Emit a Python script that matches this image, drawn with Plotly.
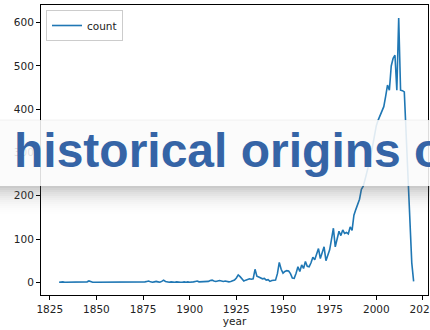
import plotly.graph_objects as go

# Yearly counts, 1830-2020
years = list(range(1830, 2021))
count = [
    # 1830s
    0, 1, 1, 0, 0, 0, 0, 0, 0, 0,
    # 1840s
    0, 0, 0, 0, 0, 1, 3, 1, 0, 0,
    # 1850s
    0, 0, 0, 1, 0, 0, 1, 0, 1, 0,
    # 1860s
    0, 1, 0, 1, 0, 1, 0, 1, 0, 0,
    # 1870s
    1, 0, 1, 0, 1, 0, 1, 2, 3, 1,
    # 1880s
    0, 1, 2, 1, 0, 2, 5, 2, 1, 0,
    # 1890s
    1, 0, 0, 1, 0, 0, 0, 1, 0, 1,
    # 1900s
    0, 0, 1, 2, 3, 1, 1, 2, 1, 2,
    # 1910s
    2, 4, 5, 3, 2, 3, 4, 3, 2, 3,
    # 1920s
    2, 1, 2, 3, 5, 10, 17, 13, 9, 3,
    # 1930s
    5, 7, 8, 7, 8, 30, 14, 12, 10, 8,
    # 1940s
    9, 5, 6, 2, 4, 4, 5, 20, 46, 30,
    # 1950s
    21, 25, 27, 26, 20, 10, 9, 21, 36, 25,
    # 1960s
    40, 32, 48, 37, 36, 45, 58, 52, 66, 78,
    # 1970s
    55, 70, 82, 50, 62, 75, 100, 125, 82, 100,
    # 1980s
    118, 108, 121, 113, 115, 112, 128, 120, 155, 168,
    # 1990s
    182, 192, 215, 222, 238, 255, 268, 290, 315, 338,
    # 2000s
    362, 375, 385, 392, 406, 430, 456, 444, 500, 518,
    # 2010-2020
    525, 444, 611, 444, 443, 440, 350, 255, 160, 45, 2,
]

x_ticks = [1825, 1850, 1875, 1900, 1925, 1950, 1975, 2000, 2025]
y_ticks = [0, 100, 200, 300, 400, 500, 600]

banner_text = "historical origins of"

W, H = 430, 330
L, R, T, B = 41, 2, 5, 35
PW, PH = W - L - R, H - T - B


def px_x(px):
    return (px - L) / PW


def px_y(py):
    return (H - B - py) / PH


fig = go.Figure()
fig.add_trace(go.Scatter(
    x=years, y=count, mode="lines", name="count",
    line=dict(color="#1f77b4", width=1.6),
))

tick_font = dict(family="DejaVu Sans", size=10.5, color="#222222")
axis_common = dict(
    showgrid=False, zeroline=False, showline=True, linecolor="#000000",
    linewidth=1, mirror=True, ticks="outside", ticklen=4, tickwidth=1,
    tickcolor="#000000", tickfont=tick_font, ticklabeloverflow="allow",
    automargin=False,
)

fig.update_xaxes(range=[1820.3, 2027.7], tickvals=x_ticks,
                 title=dict(text="year", font=tick_font, standoff=4),
                 **axis_common)
fig.update_yaxes(range=[-29.4, 641], tickvals=y_ticks, **axis_common)

# Title banner: translucent band with a soft drop shadow underneath
shapes = []
band_top, band_bot = 120, 186
shapes.append(dict(type="rect", xref="paper", yref="paper", layer="above",
                   x0=px_x(-10), x1=px_x(W + 10),
                   y0=px_y(band_bot), y1=px_y(band_top),
                   fillcolor="rgba(251,251,251,0.88)", line=dict(width=0)))
shapes.append(dict(type="line", xref="paper", yref="paper", layer="above",
                   x0=px_x(-10), x1=px_x(W + 10),
                   y0=px_y(band_top), y1=px_y(band_top),
                   line=dict(color="rgba(0,0,0,0.05)", width=1)))
shade = [0.32, 0.27, 0.23, 0.19, 0.16, 0.13, 0.10, 0.08, 0.06, 0.045,
         0.03, 0.02, 0.012, 0.006]
for i, a in enumerate(shade):
    y0 = band_bot + 2 * i
    shapes.append(dict(type="rect", xref="paper", yref="paper", layer="above",
                       x0=px_x(-10), x1=px_x(W + 10),
                       y0=px_y(y0 + 2), y1=px_y(y0),
                       fillcolor=f"rgba(90,90,90,{a})", line=dict(width=0)))

fig.update_layout(
    width=W, height=H,
    margin=dict(l=L, r=R, t=T, b=B, pad=0, autoexpand=False),
    paper_bgcolor="#ffffff", plot_bgcolor="#ffffff",
    showlegend=True,
    legend=dict(x=px_x(46), y=px_y(10), xanchor="left", yanchor="top",
                bgcolor="rgba(255,255,255,0.8)", bordercolor="#cccccc",
                borderwidth=1, font=tick_font, itemwidth=30),
    shapes=shapes,
    annotations=[dict(
        text=banner_text, xref="paper", yref="paper",
        x=px_x(12), y=px_y(150), xanchor="left", yanchor="middle",
        showarrow=False,
        font=dict(family="Liberation Sans, Arial", size=48,
                  color="#3564a6", weight="bold"),
    )],
)

fig.write_html("out.html")
